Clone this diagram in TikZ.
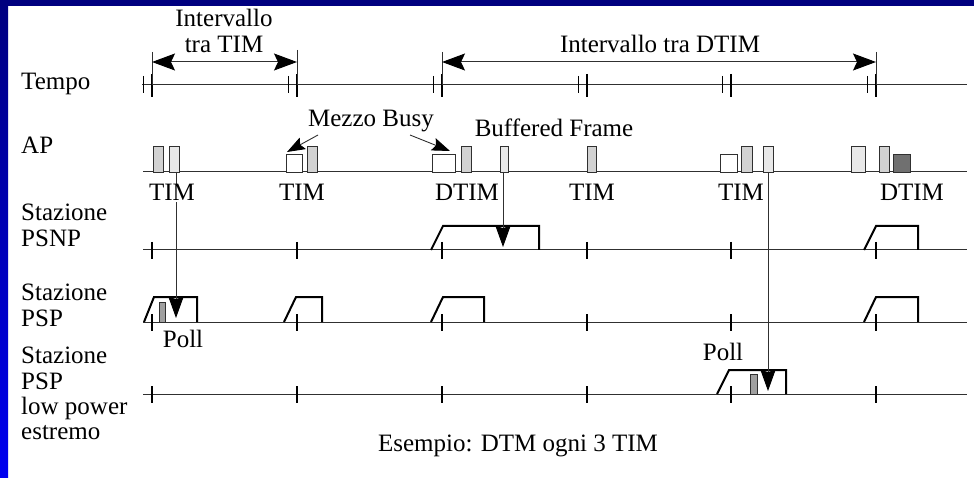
\documentclass[tikz,border=0pt]{standalone}
\usepackage{fontspec}
\setmainfont{Liberation Serif}
\usetikzlibrary{arrows.meta}
\definecolor{framenavy}{HTML}{00007F}
\definecolor{frameblue}{HTML}{0000F0}
\definecolor{barmid}{HTML}{D2D2D2}
\definecolor{barlight}{HTML}{E8E8E8}
\definecolor{bardark}{HTML}{707070}
\definecolor{pollgray}{HTML}{A0A0A0}
\definecolor{linegray}{HTML}{303030}
\begin{document}
\begin{tikzpicture}[x=1pt,y=-1pt,
  txt/.style={font=\fontsize{25}{27}\selectfont, inner sep=0pt},
  lbl/.style={txt, anchor=base west},
  ctr/.style={txt, anchor=base},
  tline/.style={draw=linegray, line width=1pt},
  thintick/.style={draw=black, line width=0.9pt},
  thicktick/.style={draw=black, line width=2pt},
  guide/.style={draw=linegray, line width=0.9pt},
  bigarrow/.style={draw=linegray, line width=1pt, {Stealth[length=23pt,width=17pt,inset=4pt,black]}-{Stealth[length=23pt,width=17pt,inset=4pt,black]}},
  busyarrow/.style={draw=linegray, line width=0.9pt, -{Stealth[length=18pt,width=13pt,inset=3pt,black]}},
  downarrow/.style={draw=linegray, line width=1pt, -{Stealth[length=21pt,width=15pt,inset=2pt,black]}},
  bar/.style={draw=linegray, line width=0.8pt},
  wake/.style={draw=black, line width=2pt, line join=miter},
  apnode/.style={txt, anchor=base, fill=white, inner sep=1pt}
]
\useasboundingbox (0,0) rectangle (974,478);
\fill[white] (0,0) rectangle (974,478);
\shade[top color=framenavy, bottom color=frameblue] (0,0) rectangle (8,478);
\fill[framenavy] (0,0) rectangle (974,6);

% ---------- labels on the left
\node[lbl] (lTempo) at (21,90) {Tempo};
\node[lbl] (lAP) at (21,154) {AP};
\node[lbl] (lS1a) at (21,221) {Stazione};
\node[lbl] (lS1b) at (21,247) {PSNP};
\node[lbl] (lS2a) at (21,301) {Stazione};
\node[lbl] (lS2b) at (21,326) {PSP};
\node[lbl] (lS3a) at (21,363) {Stazione};
\node[lbl] (lS3b) at (21,389) {PSP};
\node[lbl] (lS3c) at (21,414) {low power};
\node[lbl] (lS3d) at (21,439) {estremo};

% ---------- time lines
\coordinate (tempoL) at (142,85);  \coordinate (tempoR) at (967,85);
\coordinate (apL) at (143,172);    \coordinate (apR) at (967,172);
\coordinate (s1L) at (143,250);    \coordinate (s1R) at (967,250);
\coordinate (s2L) at (143,322);    \coordinate (s2R) at (967,322);
\coordinate (s3L) at (143,394);    \coordinate (s3R) at (967,394);
\draw[tline] (tempoL) -- (tempoR);
\draw[tline] (apL) -- (apR);
\draw[tline] (s1L) -- (s1R);
\draw[tline] (s2L) -- (s2R);
\draw[tline] (s3L) -- (s3R);

% ---------- ticks
\foreach \t in {152,297,442,587,731,876}{
  \draw[thintick] (\t-9,76) -- (\t-9,93);
  \draw[thicktick] (\t,74) -- (\t,97);
  \draw[thicktick] (\t,242) -- (\t,259);
  \draw[thicktick] (\t,314) -- (\t,331);
  \draw[thicktick] (\t,386) -- (\t,403);
}

% ---------- interval arrows
\coordinate (iA) at (152,62); \coordinate (iB) at (297,62);
\coordinate (iC) at (442,62); \coordinate (iD) at (876,62);
\draw[guide] (152,52) -- (152,85);
\draw[guide] (297,50) -- (297,85);
\draw[guide] (442,52) -- (442,85);
\draw[guide] (876,52) -- (876,85);
\draw[bigarrow] (iA) -- (iB);
\draw[bigarrow] (iC) -- (iD);
\node[ctr] (tInt1a) at (224,27) {Intervallo};
\node[ctr] (tInt1b) at (224,53) {tra TIM};
\node[ctr] (tInt2) at (660,53) {Intervallo tra DTIM};

% ---------- AP bars
\foreach \a/\b/\h/\c in {153/163/146/barmid, 169/179/146/barlight,
  286/302/154/white, 307/317/146/barmid,
  432/455/154/white, 461/471/146/barmid, 500/508/146/barlight, 587/596/146/barmid,
  720/737/154/white, 741/752/146/barmid, 763/773/146/barlight,
  851/865/146/barlight, 879/889/146/barmid, 893/910/154/bardark}{
  \filldraw[bar, fill=\c] (\a,172) rectangle (\b,\h);
}

% ---------- Mezzo Busy / Buffered Frame
\node[ctr] (tBusy) at (371,127) {Mezzo Busy};
\node[ctr] (tBuf) at (554,137) {Buffered Frame};
\coordinate (busyA0) at (318,135); \coordinate (busyA1) at (287,152);
\coordinate (busyB0) at (410,135); \coordinate (busyB1) at (450,151);
\draw[busyarrow] (busyA0) -- (busyA1);
\draw[busyarrow] (busyB0) -- (busyB1);

% ---------- wake-up shapes
% PSNP
\draw[wake] (431,250) -- (443,226) -- (539,226) -- (539,250);
\draw[wake] (864,250) -- (876,226) -- (918,226) -- (918,250);
% PSP
\fill[pollgray, draw=linegray, line width=0.6pt] (159,302) rectangle (165,322);
\draw[wake] (144,322) -- (154,297) -- (197,297) -- (197,322);
\draw[wake] (284,322) -- (296,297) -- (322,297) -- (322,322);
\draw[wake] (431,322) -- (443,297) -- (484,297) -- (484,322);
\draw[wake] (864,322) -- (876,297) -- (918,297) -- (918,322);
% PSP low power
\fill[pollgray, draw=linegray, line width=0.6pt] (750,374) rectangle (757,394);
\draw[wake] (717,394) -- (729,370) -- (786,370) -- (786,394);

% ---------- downward arrows
\coordinate (d1s) at (176,172); \coordinate (d1e) at (176,318);
\coordinate (d2s) at (503,172); \coordinate (d2e) at (503,247);
\coordinate (d3s) at (768,172); \coordinate (d3e) at (768,391);
\draw[downarrow] (d1s) -- (d1e);
\draw[downarrow] (d2s) -- (d2e);
\draw[downarrow] (d3s) -- (d3e);

% ---------- AP event labels
\node[apnode] (tTIM1) at (172,201) {TIM};
\node[apnode] (tTIM2) at (302,201) {TIM};
\node[apnode] (tDTIM1) at (467,201) {DTIM};
\node[apnode] (tTIM3) at (592,201) {TIM};
\node[apnode] (tTIM4) at (741,201) {TIM};
\node[apnode] (tDTIM2) at (912,201) {DTIM};

% ---------- Poll labels and caption
\node[ctr] (tPoll1) at (183,347) {Poll};
\node[ctr] (tPoll2) at (723,360) {Poll};
\node[ctr] (tCap) at (518,451) {Esempio: DTM ogni 3 TIM};
\end{tikzpicture}
\end{document}
